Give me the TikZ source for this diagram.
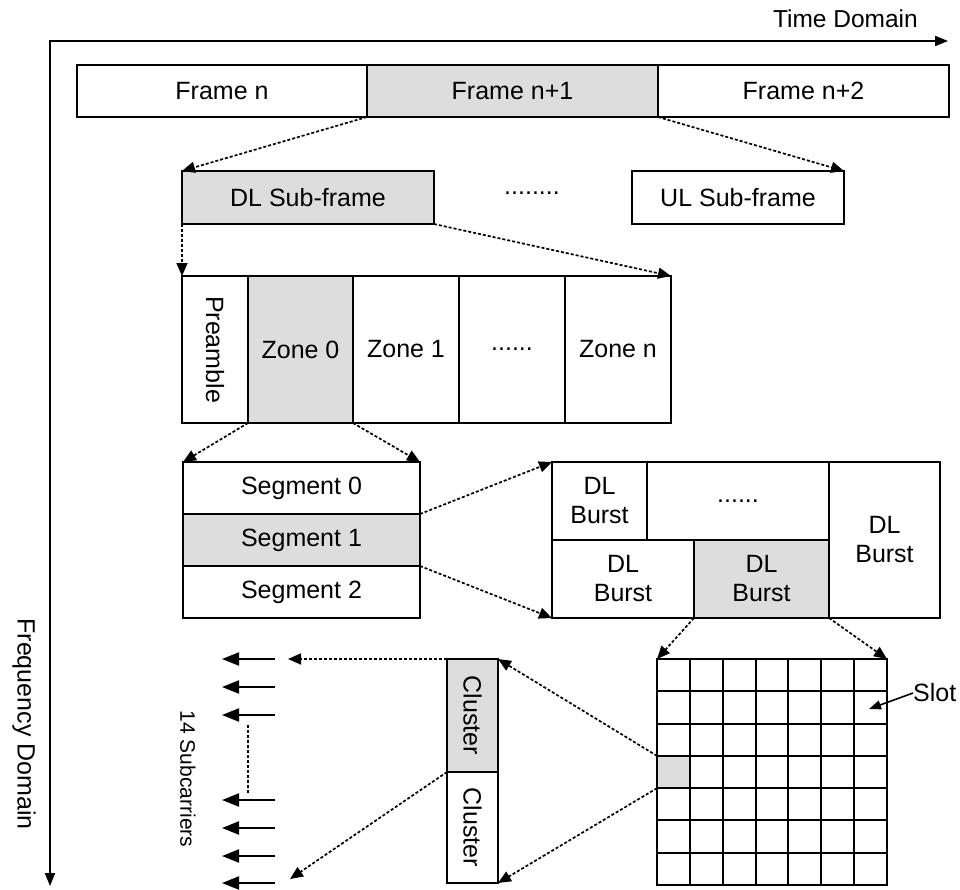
\documentclass[tikz,border=0pt]{standalone}
\usepackage{fontspec}
\setmainfont{Liberation Sans}
\usetikzlibrary{arrows.meta}
\definecolor{shade}{RGB}{221,221,221}
\begin{document}
\begin{tikzpicture}[x=1pt,y=-1pt,
  box/.style={draw, line width=1.9pt, inner sep=0pt, outer sep=0pt, anchor=north west,
    font=\fontsize{25}{29}\selectfont, align=center},
  hl/.style={fill=shade},
  txt/.style={font=\fontsize{25}{29}\selectfont, inner sep=0pt},
  zoomline/.style={line width=1.7pt, dash pattern=on 3pt off 2pt,
    -{Triangle[length=13pt,width=11pt]}},
  axis/.style={line width=1.9pt},
  carrier/.style={line width=2pt, -{Triangle[length=17pt,width=13pt]}},
]
\useasboundingbox (0,0) rectangle (960,889);

% time / frequency axes
\coordinate (origin) at (50,41);
\coordinate (tend) at (948,41);
\coordinate (fend) at (50,886);
\draw[axis, {Triangle[length=13pt,width=10pt]}-{Triangle[length=13pt,width=10pt]}]
  (fend) -- (origin) -- (tend);
\node[txt, font=\fontsize{24.5}{29}\selectfont, anchor=east] (tlabel) at (918,19) {Time Domain};
\node[txt, rotate=-90] (flabel) at (24,724) {Frequency Domain};

% frames
\node[box, minimum width=290pt, minimum height=52pt] (fa) at (77,65) {Frame n};
\node[box, hl, minimum width=291pt, minimum height=52pt] (fb) at (367,65) {Frame n+1};
\node[box, minimum width=291pt, minimum height=52pt] (fc) at (658,65) {Frame n+2};

% sub-frames
\node[box, hl, minimum width=252pt, minimum height=53pt] (dl) at (182,171) {DL Sub-frame};
\node[txt] (sfdots) at (532,193) {........};
\node[box, minimum width=212pt, minimum height=53pt] (ul) at (632,171) {UL Sub-frame};

% zones
\node[box, minimum width=66pt, minimum height=147pt] (pre) at (182,276) {};
\node[txt, rotate=-90] (pretext) at (pre.center) {Preamble};
\node[box, hl, minimum width=105pt, minimum height=147pt] (z0) at (248,276) {Zone 0};
\node[box, minimum width=106pt, minimum height=147pt] (z1) at (353,276) {Zone 1};
\node[box, minimum width=106pt, minimum height=147pt] (zd) at (459,276) {......};
\node[box, minimum width=106pt, minimum height=147pt] (zn) at (565,276) {Zone n};

% segments
\node[box, minimum width=237pt, minimum height=52pt] (s0) at (183,462) {Segment 0};
\node[box, hl, minimum width=237pt, minimum height=52pt] (s1) at (183,514) {Segment 1};
\node[box, minimum width=237pt, minimum height=52pt] (s2) at (183,566) {Segment 2};

% bursts
\node[box, minimum width=95pt, minimum height=78pt] (b1) at (552,462) {DL\\Burst};
\node[box, minimum width=182pt, minimum height=78pt] (bd) at (647,462) {......};
\node[box, minimum width=111pt, minimum height=156pt] (b5) at (829,462) {DL\\Burst};
\node[box, minimum width=142pt, minimum height=78pt] (b3) at (552,540) {DL\\Burst};
\node[box, hl, minimum width=135pt, minimum height=78pt] (b4) at (694,540) {DL\\Burst};

% slot grid (7 x 7)
\node[box, minimum width=230pt, minimum height=226pt] (grid) at (657,659) {};
\node[box, hl, minimum width=230/7*1pt, minimum height=226/7*1pt] (cell) at (657,{659+3*226/7}) {};
\foreach \i in {1,...,6} {
  \draw[line width=1.9pt] ({657+\i*230/7},659) -- ({657+\i*230/7},885);
  \draw[line width=1.9pt] (657,{659+\i*226/7}) -- (887,{659+\i*226/7});
}
\node[txt, anchor=west] (slot) at (913,693) {Slot};
\coordinate (slottip) at (869,709);
\draw[line width=1.6pt, -{Triangle[length=12pt,width=9pt]}] (slot.west) -- (slottip);

% clusters
\node[box, hl, minimum width=51pt, minimum height=113pt] (c1) at (447,659) {};
\node[txt, rotate=-90] (c1text) at (c1.center) {Cluster};
\node[box, minimum width=51pt, minimum height=111pt] (c2) at (447,772) {};
\node[txt, rotate=-90] (c2text) at (c2.center) {Cluster};

% subcarriers
\foreach \y in {659,687,715,800,828,856,883} {
  \coordinate (sa\y) at (275,\y);
  \coordinate (sb\y) at (222,\y);
  \draw[carrier] (sa\y) -- (sb\y);
}
\coordinate (gapa) at (248,725);
\coordinate (gapb) at (248,793);
\draw[line width=1.7pt, dash pattern=on 3pt off 2pt] (gapa) -- (gapb);
\node[font=\fontsize{21}{25}\selectfont, inner sep=0pt, rotate=-90] (nsub) at (188,779) {14 Subcarriers};

% zoom connectors
\draw[zoomline] (fb.south west) -- (dl.north west);
\draw[zoomline] (fb.south east) -- (ul.north east);
\draw[zoomline] (dl.south west) -- (pre.north west);
\draw[zoomline] (dl.south east) -- (zn.north east);
\draw[zoomline] (z0.south west) -- (s0.north west);
\draw[zoomline] (z0.south east) -- (s0.north east);
\draw[zoomline] (s1.north east) -- (b1.north west);
\draw[zoomline] (s1.south east) -- (b3.south west);
\draw[zoomline] (b4.south west) -- (grid.north west);
\draw[zoomline] (b4.south east) -- (grid.north east);
\draw[zoomline] (cell.north west) -- (c1.north east);
\draw[zoomline] (cell.south west) -- (c2.south east);
\coordinate (sctop) at (288,659);
\coordinate (scbot) at (290,879);
\draw[zoomline] (c1.north west) -- (sctop);
\draw[zoomline] (c1.south west) -- (scbot);
\end{tikzpicture}
\end{document}
